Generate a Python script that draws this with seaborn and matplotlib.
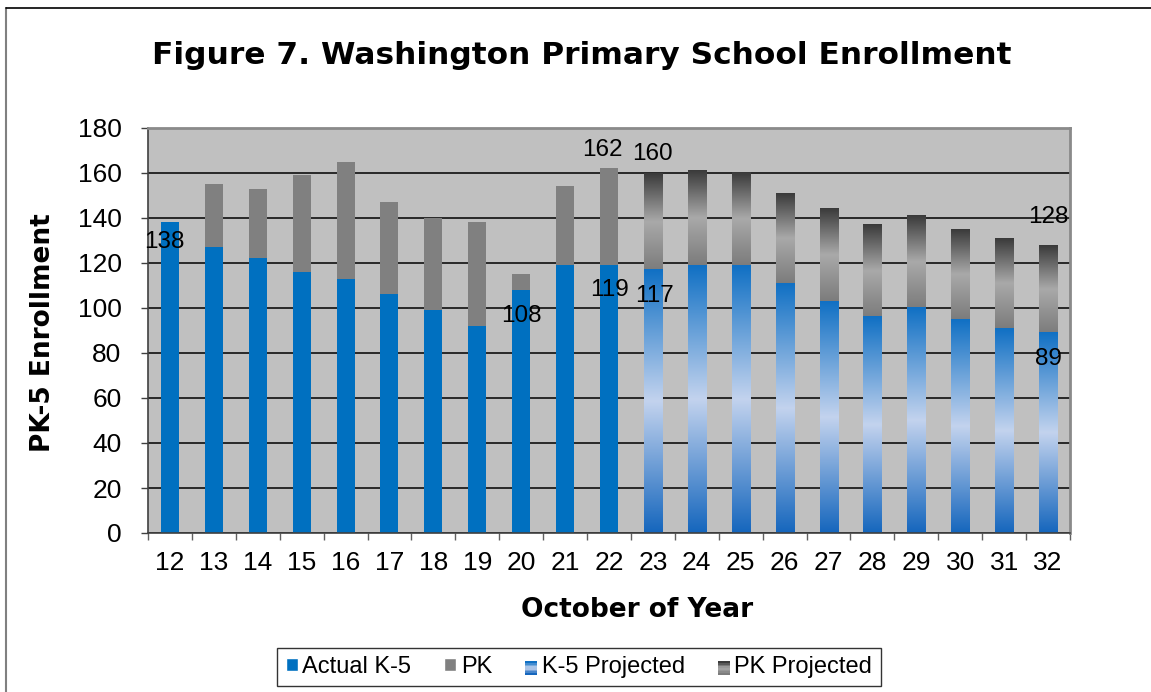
import numpy as np
import pandas as pd
import seaborn as sns
import matplotlib.pyplot as plt
from matplotlib.lines import Line2D
from matplotlib.patches import Rectangle
from matplotlib.legend_handler import HandlerBase
from matplotlib.colors import LinearSegmentedColormap

# -----------------------------
# data
# -----------------------------
years = [str(y) for y in range(12, 33)]
k5 = [138, 127, 122, 116, 113, 106, 99, 92, 108, 119, 119,
      117, 119, 119, 111, 103, 96, 100, 95, 91, 89]
total = [138, 155, 153, 159, 165, 147, 140, 138, 115, 154, 162,
         160, 161, 160, 151, 144, 137, 141, 135, 131, 128]
kind = ["Actual"] * 11 + ["Projected"] * 10

# data labels: (year, value shown)
label_years = ["12", "22", "22", "20", "23", "23", "32", "32"]
label_vals = [138, 162, 119, 108, 160, 117, 128, 89]
label_offsets = [(-4, -14), (-5, 13), (0, -18), (0, -19), (0, 14), (1, -19), (0, 20), (0, -19)]

df = pd.DataFrame({"year": years, "k5": k5, "total": total, "kind": kind})

# colours
BLUE = "#0070C0"
GREY = "#808080"
BG = "#C0C0C0"
k5_grad = ["#1566BD", "#C3D3EE", "#1070C4"]      # bottom -> middle -> top
pk_grad = ["#7C7C7C", "#A9A9A9", "#3A3A3A"]

sns.set_theme(style="white")
plt.rcParams["font.family"] = ["Liberation Sans", "DejaVu Sans"]
plt.rcParams.update({"text.color": "black", "axes.labelcolor": "black",
                     "xtick.color": "black", "ytick.color": "black"})

fig = plt.figure(figsize=(11.51, 6.92), dpi=100)
ax = fig.add_axes([148 / 1151, 159 / 692, 922 / 1151, 405 / 692])
ax.set_facecolor(BG)

# stacked bars: totals (PK on top) then K-5 drawn over them
sns.barplot(data=df, x="year", y="total", hue="kind", palette={"Actual": GREY, "Projected": GREY},
            dodge=False, width=0.41, legend=False, ax=ax, linewidth=0, saturation=1)
n_tot = len(ax.patches)
sns.barplot(data=df, x="year", y="k5", hue="kind", palette={"Actual": BLUE, "Projected": BLUE},
            dodge=False, width=0.41, legend=False, ax=ax, linewidth=0, saturation=1)


def gradient_fill(patch, stops, bottom=0.0):
    x0 = patch.get_x()
    w = patch.get_width()
    h = patch.get_height()
    if not np.isfinite(h) or h <= 0:
        return
    cmap = LinearSegmentedColormap.from_list("g", stops)
    img = cmap(np.linspace(0, 1, 256))[:, None, :3]
    ax.imshow(img, extent=[x0, x0 + w, bottom, bottom + h], origin="lower", aspect="auto",
              interpolation="bilinear", zorder=2.1)
    patch.set_facecolor("none")


for i, p in enumerate(ax.patches):
    h = p.get_height()
    if not np.isfinite(h) or h <= 0:
        continue
    idx = int(round(p.get_x() + p.get_width() / 2))
    if df.kind[idx] != "Projected":
        continue
    if i < n_tot:
        # PK projected section = between k5 and total
        kv = df.k5[idx]
        p.set_facecolor("none")
        part = Rectangle((p.get_x(), kv), p.get_width(), h - kv)
        gradient_fill(part, pk_grad, bottom=kv)
    else:
        gradient_fill(p, k5_grad)

# data labels
for yr, v, off in zip(label_years, label_vals, label_offsets):
    ax.annotate(str(v), xy=(years.index(yr), v), xytext=off, textcoords="offset points",
                ha="center", va="center", fontsize=17.5, color="black", zorder=5)

# axes
ax.set_xlim(-0.5, len(years) - 0.5)
ax.set_ylim(0, 180)
ax.set_yticks(range(0, 181, 20))
ax.set_axisbelow(True)
ax.yaxis.grid(True, color="black", linewidth=1.1)
ax.xaxis.grid(False)
ax.tick_params(axis="y", which="major", direction="out", length=5, width=1, color="#404040",
               left=True, labelsize=19, pad=14)
ax.set_xticks(np.arange(-0.5, len(years)), minor=True)
ax.tick_params(axis="x", which="major", length=0, labelsize=19, pad=13)
ax.tick_params(axis="x", which="minor", direction="out", length=5, width=1, color="#606060", bottom=True)
for s in ["left", "bottom"]:
    ax.spines[s].set_color("#404040")
    ax.spines[s].set_linewidth(1.2)
for s in ["top", "right"]:
    ax.spines[s].set_color("#8A8A8A")
    ax.spines[s].set_linewidth(2)

ax.set_xlabel("October of Year", fontsize=19, fontweight="bold", family="DejaVu Sans")
ax.set_ylabel("PK-5 Enrollment", fontsize=19, fontweight="bold", family="DejaVu Sans")
ax.yaxis.label.set_va("center")
ax.yaxis.set_label_coords(-0.114, 0.495)
ax.xaxis.label.set_va("center")
ax.xaxis.set_label_coords(0.53, -0.19)

fig.suptitle("Figure 7. Washington Primary School Enrollment", x=0.505, y=1 - 55 / 692,
             va="center", fontsize=22.5, fontweight="bold", family="DejaVu Sans", color="black")


# legend with gradient swatches
class GradHandler(HandlerBase):
    def __init__(self, stops):
        super().__init__()
        self.stops = stops

    def create_artists(self, legend, orig, xd, yd, width, height, fontsize, trans):
        cmap = LinearSegmentedColormap.from_list("g", self.stops)
        n = 8
        arts = []
        for k in range(n):
            arts.append(Rectangle((xd, yd + k * height / n), width, height / n + 0.3,
                                  facecolor=cmap(k / (n - 1)), edgecolor="none", transform=trans))
        return arts


h_act = Rectangle((0, 0), 1, 1, facecolor=BLUE)
h_pk = Rectangle((0, 0), 1, 1, facecolor=GREY)
h_k5p = Rectangle((0, 0), 1, 1, facecolor=BLUE)
h_pkp = Rectangle((0, 0), 1, 1, facecolor=GREY)
leg = fig.legend([h_act, h_pk, h_k5p, h_pkp], ["Actual K-5", "PK", "K-5 Projected", "PK Projected"],
                 loc="center", bbox_to_anchor=(579 / 1151, 1 - 667 / 692), ncol=4, fontsize=17,
                 frameon=True, fancybox=False, edgecolor="black", handlelength=0.5, handleheight=0.5,
                 handletextpad=0.2, columnspacing=1.4, borderpad=0.35,
                 handler_map={h_k5p: GradHandler(k5_grad), h_pkp: GradHandler(pk_grad)})
leg.get_frame().set_linewidth(1)

# outer chart frame
fig.add_artist(Line2D([6 / 1151, 6 / 1151], [0, 1 - 8 / 692], transform=fig.transFigure,
                      color="#808080", linewidth=1.5))
fig.add_artist(Line2D([6 / 1151, 1], [1 - 8 / 692, 1 - 8 / 692], transform=fig.transFigure,
                      color="black", linewidth=1.2))

fig.savefig("out.png", dpi=100, facecolor="white")
